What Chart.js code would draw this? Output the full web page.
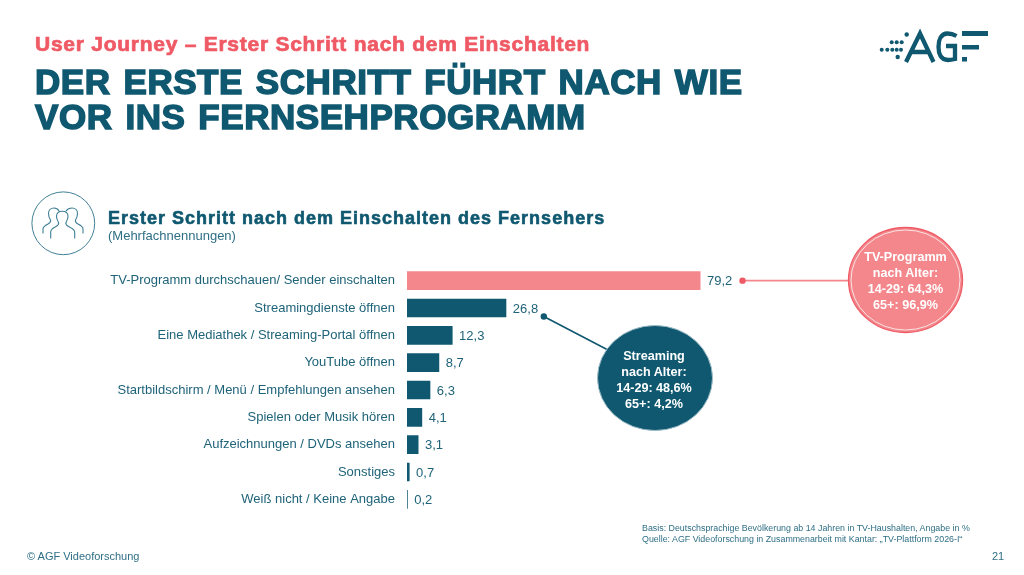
<!DOCTYPE html>
<html lang="de">
<head>
<meta charset="utf-8">
<title>Erster Schritt nach dem Einschalten</title>
<script src="https://cdn.jsdelivr.net/npm/chart.js@4/dist/chart.umd.min.js"></script>
<style>
  html, body { margin: 0; padding: 0; background: #fff; }
  #page { position: relative; width: 1024px; height: 575px; overflow: hidden; font-family: "Liberation Sans", Arial, sans-serif; color: #0f5870; }
  #page canvas { position: absolute; left: 0; top: 0; }
  .t { position: absolute; white-space: nowrap; }
  #kicker { left: 35px; top: 31px; font-size: 21px; line-height: 26px; font-weight: bold; color: #ef5a65; letter-spacing: .74px; -webkit-text-stroke: .7px #ef5a65; }
  #title { left: 35px; top: 64px; font-size: 35px; line-height: 35px; font-weight: bold; letter-spacing: .55px; word-spacing: 2.66px; -webkit-text-stroke: 1.5px #0f5870; }
  #heading { left: 108px; top: 207px; font-size: 18px; line-height: 22px; font-weight: bold; letter-spacing: 1px; -webkit-text-stroke: .6px #0f5870; }
  #sub { left: 108px; top: 228px; font-size: 13px; line-height: 15px; color: #2f6f85; }
  #basis { left: 642px; top: 523px; font-size: 8.85px; line-height: 11px; color: #2f6f85; }
  #copy { left: 27px; top: 549px; font-size: 11px; line-height: 14px; color: #2f6f85; }
  #num { left: 992px; top: 549px; font-size: 11px; line-height: 14px; color: #2f6f85; }
  .bubble { position: absolute; width: 114px; text-align: center; font-size: 12.6px; line-height: 16px; font-weight: bold; color: #fff; }
  svg { position: absolute; left: 0; top: 0; }
</style>
</head>
<body>
<div id="page">
  <canvas id="chart" width="1024" height="575"></canvas>
  <svg width="1024" height="575" viewBox="0 0 1024 575" fill="none">
    <!-- people icon -->
    <circle cx="63.3" cy="223.3" r="31.4" stroke="#3f7f95" stroke-width="1"/>
    <g stroke="#3f7f95" stroke-width="1.1" stroke-linecap="round" stroke-linejoin="round">
      <path d="M50.7 238V232C50.7 229 53 228 56 226.500C58 225.500 59 224 58.500 222.500C57 220 56.500 218 56.500 216.500C56.500 213 59 211.300 62.300 211.300C65.500 211.300 68 213 68 216.500C68 218 67.500 220 66 222.500C65.500 224 66.500 225.500 68.500 226.500C71.500 228 74.700 229 74.700 232V238"/>
      <path d="M43 233V229C43 226.500 45 225.500 48 224C50 223 51 221.500 50.500 220C49 217.500 48.500 215.500 48.500 213.500C48.500 210 51 208 54 208C56 208 58 209 59 211"/>
      <path d="M83 233V229C83 226.500 81 225.500 78 224C76 223 75 221.500 75.500 220C77 217.500 77.500 215.500 77.500 213.500C77.500 210 75 208 72 208C70 208 67.500 209 66 211"/>
    </g>
    <!-- AGF logo -->
    <g fill="#0f5870">
      <circle cx="881.700" cy="49.700" r="2"/><circle cx="887.300" cy="49.700" r="2"/><circle cx="892.300" cy="49.700" r="2"/><circle cx="896.700" cy="49.700" r="2"/><circle cx="901" cy="49.700" r="2"/>
      <circle cx="891.700" cy="42.300" r="2"/><circle cx="896.700" cy="42.300" r="2"/><circle cx="901.700" cy="42.300" r="2"/>
      <circle cx="906.700" cy="34.500" r="2.200"/><circle cx="897.700" cy="57" r="2.200"/>
      <rect x="962" y="31" width="26" height="5"/><rect x="962" y="45" width="17" height="4.500"/><rect x="962" y="57" width="5" height="4.500"/>
    </g>
    <g stroke="#0f5870" stroke-width="4.300">
      <path d="M906 62L920 33.500L933.500 62M911.500 52H928.500"/>
      <path d="M956.500 36C953 34 950 33.500 947.500 33.500C941 33.500 938.500 40 938.500 47C938.500 54 941 60 948 60C950.500 60 953 59.500 955 59V46H946"/>
    </g>
  </svg>
  <div class="t" id="kicker">User Journey – Erster Schritt nach dem Einschalten</div>
  <div class="t" id="title">DER ERSTE SCHRITT FÜHRT NACH WIE<br>VOR INS FERNSEHPROGRAMM</div>
  <div class="t" id="heading">Erster Schritt nach dem Einschalten des Fernsehers</div>
  <div class="t" id="sub">(Mehrfachnennungen)</div>
  <div class="bubble" style="left:848.500px;top:249px">TV-Programm<br>nach Alter:<br>14-29: 64,3%<br>65+: 96,9%</div>
  <div class="bubble" style="left:597px;top:348px">Streaming<br>nach Alter:<br>14-29: 48,6%<br>65+: 4,2%</div>
  <div class="t" id="basis">Basis: Deutschsprachige Bevölkerung ab 14 Jahren in TV-Haushalten, Angabe in %<br>Quelle: AGF Videoforschung in Zusammenarbeit mit Kantar: „TV-Plattform 2026-I“</div>
  <div class="t" id="copy">© AGF Videoforschung</div>
  <div class="t" id="num">21</div>
</div>
<script>
const categories = [
  "TV-Programm durchschauen/ Sender einschalten",
  "Streamingdienste öffnen",
  "Eine Mediathek / Streaming-Portal öffnen",
  "YouTube öffnen",
  "Startbildschirm / Menü / Empfehlungen ansehen",
  "Spielen oder Musik hören",
  "Aufzeichnungen / DVDs ansehen",
  "Sonstiges",
  "Weiß nicht / Keine Angabe"
];
const values = [79.2, 26.8, 12.3, 8.7, 6.3, 4.1, 3.1, 0.7, 0.2];
const barColors = ["#f3878c", "#0f5870", "#0f5870", "#0f5870", "#0f5870", "#0f5870", "#0f5870", "#0f5870", "#0f5870"];

const navy = "#0f5870", red = "#ef5a65", pink = "#f3878c";

// value labels next to the bars
const valueLabels = {
  id: "valueLabels",
  afterDatasetsDraw(chart) {
    const ctx = chart.ctx;
    ctx.save();
    ctx.font = "13px 'Liberation Sans'";
    ctx.fillStyle = "#1f6379";
    ctx.textBaseline = "middle";
    chart.getDatasetMeta(0).data.forEach((bar, i) => {
      ctx.fillText(values[i].toFixed(1).replace(".", ","), bar.x + 6.5, bar.y + 1);
    });
    ctx.restore();
  }
};

function ellipse(ctx, x, y, rx, ry, fill, stroke, w) {
  ctx.beginPath();
  ctx.ellipse(x, y, rx, ry, 0, 0, Math.PI * 2);
  if (fill) { ctx.fillStyle = fill; ctx.fill(); }
  if (stroke) { ctx.strokeStyle = stroke; ctx.lineWidth = w; ctx.stroke(); }
}

// the two age bubbles with their leader lines
const callouts = {
  id: "callouts",
  afterDatasetsDraw(chart) {
    const ctx = chart.ctx;
    const tv = chart.getDatasetMeta(0).data[0];
    const st = chart.getDatasetMeta(0).data[1];
    ctx.save();
    ctx.lineWidth = 1.6;
    ctx.strokeStyle = pink;
    ctx.beginPath(); ctx.moveTo(tv.x + 42, tv.y); ctx.lineTo(852, tv.y); ctx.stroke();
    ellipse(ctx, tv.x + 42, tv.y, 3.2, 3.2, red);

    ctx.strokeStyle = navy;
    ctx.beginPath(); ctx.moveTo(st.x + 37.5, st.y + 8.5); ctx.lineTo(608, 350); ctx.stroke();
    ellipse(ctx, st.x + 37.5, st.y + 8.5, 3.2, 3.2, navy);

    ellipse(ctx, 905.5, 280, 57, 52.5, pink, red, 1.3);
    ellipse(ctx, 905.5, 280, 54.5, 50, null, "#fbe3e4", 1);
    ellipse(ctx, 655, 378, 57.500, 52.500, navy, "#9dbcc7", 1);
    ctx.restore();
  }
};

new Chart(document.getElementById("chart"), {
  type: "bar",
  data: {
    labels: categories,
    datasets: [{
      data: values,
      backgroundColor: barColors,
      barPercentage: 0.68,
      categoryPercentage: 1
    }]
  },
  options: {
    indexAxis: "y",
    responsive: false,
    animation: false,
    devicePixelRatio: 1,
    layout: { padding: { top: 267, bottom: 62, left: 0, right: 246.4 } },
    plugins: { legend: { display: false }, tooltip: { enabled: false } },
    scales: {
      x: { display: false, min: 0, max: 100 },
      y: {
        afterFit(axis) { axis.width = 407; },
        border: { display: false },
        grid: { display: false, drawTicks: false },
        ticks: { color: "#1f6379", padding: 12, font: { family: "Liberation Sans", size: 13 }, autoSkip: false }
      }
    }
  },
  plugins: [valueLabels, callouts]
});
</script>
</body>
</html>
